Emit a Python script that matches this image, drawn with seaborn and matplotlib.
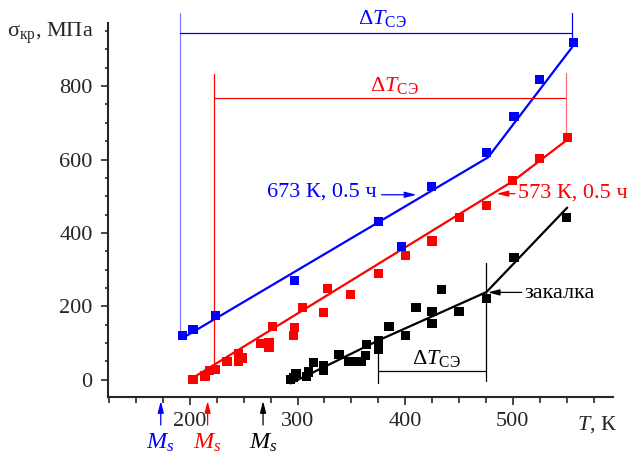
import matplotlib
matplotlib.use("Agg")
import matplotlib.pyplot as plt
import seaborn as sns
import pandas as pd
from matplotlib.ticker import MultipleLocator, FixedLocator

# ---------------- data ----------------
blue_T = [193, 203, 224, 297.5, 375, 396.5, 424.5, 475.5, 501, 525, 556]
blue_s = [121, 137, 174, 271, 431, 363, 527, 620, 718, 818, 918]
blue_fit_T = [193, 477, 555]
blue_fit_s = [113, 606, 906]

red_T = [203, 214, 218, 224, 234.5, 245, 245.5, 248.5, 265.5, 273.5, 273.5, 277,
         297.5, 296.5, 305, 324, 327.5, 349, 375, 400, 425, 450.5, 475.5, 500, 525, 551]
red_s = [0, 10, 25, 27, 50, 72, 51, 59, 98, 102, 89, 146,
         143, 121, 196, 183, 248, 232, 289, 339, 378, 443, 475, 543, 602, 659]
red_fit_T = [200.5, 500, 551]
red_fit_s = [1, 541, 655]

black_T = [293.5, 296, 298.5, 308.5, 310, 314.5, 324, 324, 338.5, 347, 353, 359.5,
           363.5, 364, 375, 375, 385, 400, 410, 425, 425, 433.5, 450, 475.5, 501, 550]
black_s = [0, 7, 18, 9, 21, 48, 39, 25, 69, 50, 50, 50,
           66, 95, 107, 82, 146, 121, 196, 187, 153, 246, 187, 221, 334, 443]
black_fit_T = [293.5, 375, 475.5, 550.5]
black_fit_s = [-10, 107, 239, 469]

# temperature-interval brackets (ΔT_СЭ)
blue_dT = [190.7, 555.3]
red_dT = [222.6, 549.8]
black_dT = [375, 475.5]
Ms_T = [173, 216.5, 268]
Ms_colors = ["#0000ff", "#ff0000", "#000000"]

x_major = [200, 300, 400, 500]
y_major = [0, 200, 400, 600, 800]

BLUE, RED, BLACK = "#0000ff", "#ff0000", "#000000"
FS = 16

# ---------------- style ----------------
sns.set_style("ticks")
plt.rcParams["font.family"] = ["Liberation Serif", "DejaVu Serif"]
plt.rcParams["mathtext.fontset"] = "custom"
plt.rcParams["mathtext.rm"] = "Liberation Serif"
plt.rcParams["mathtext.it"] = "Liberation Serif:italic"
plt.rcParams["mathtext.bf"] = "Liberation Serif:bold"

fig = plt.figure(figsize=(6.3, 4.54), dpi=100)
ax = fig.add_axes([108 / 630, 1 - 397 / 454, (613 - 108) / 630, (397 - 23) / 454])

# fitted lines
for T, s, c in [(blue_fit_T, blue_fit_s, BLUE), (red_fit_T, red_fit_s, RED),
                (black_fit_T, black_fit_s, BLACK)]:
    sns.lineplot(x=T, y=s, sort=False, estimator=None, color=c, lw=1.6, ax=ax)

# points
for T, s, c in [(blue_T, blue_s, BLUE), (red_T, red_s, RED), (black_T, black_s, BLACK)]:
    sns.scatterplot(x=T, y=s, marker="s", s=44, color=c, edgecolor="none", linewidth=0,
                    ax=ax, zorder=3)

ax.set_xlim(124, 593)
ax.set_ylim(-47, 972)

# brackets
thin = 0.9
# blue
ax.plot([blue_dT[0], blue_dT[0]], [113, 999], color="#8080ff", lw=thin, clip_on=False)
ax.plot([blue_dT[0], blue_dT[1]], [945, 945], color=BLUE, lw=thin, clip_on=False)
ax.plot([blue_dT[1], blue_dT[1]], [906, 999], color=BLUE, lw=thin, clip_on=False)
ax.text(379, 984, r"$\Delta T_{\mathrm{СЭ}}$", color=BLUE, fontsize=FS,
        ha="center", va="center")
# red
ax.plot([red_dT[0], red_dT[0]], [34, 832], color=RED, lw=thin)
ax.plot([red_dT[0], red_dT[1]], [768, 768], color=RED, lw=thin)
ax.plot([red_dT[1], red_dT[1]], [655, 835], color="#ff7070", lw=thin)
ax.text(390, 802, r"$\Delta T_{\mathrm{СЭ}}$", color=RED, fontsize=FS,
        ha="center", va="center")
# black
ax.plot([black_dT[0], black_dT[0]], [-9, 80], color=BLACK, lw=thin)
ax.plot([black_dT[1], black_dT[1]], [-4, 318], color=BLACK, lw=thin)
ax.plot([black_dT[0], black_dT[1]], [23, 23], color=BLACK, lw=thin)
ax.text(429, 59, r"$\Delta T_{\mathrm{СЭ}}$", color=BLACK, fontsize=FS,
        ha="center", va="center")

# annotations with arrows
arrow = dict(arrowstyle="-|>,head_length=0.7,head_width=0.18", lw=0.9, shrinkA=0, shrinkB=0)
ax.annotate("", xy=(410.5, 504), xytext=(378, 504),
            arrowprops=dict(arrow, color=BLUE))
ax.text(373.5, 511, "673 К, 0.5 ч", color=BLUE, fontsize=FS, ha="right", va="center")
ax.annotate("", xy=(484.8, 507), xytext=(502, 507),
            arrowprops=dict(arrow, color=RED))
ax.text(504.5, 508, "573 К, 0.5 ч", color=RED, fontsize=FS, ha="left", va="center")
ax.annotate("", xy=(476.7, 238), xytext=(508.3, 238),
            arrowprops=dict(arrow, color=BLACK))
ax.text(511, 235, "закалка", color=BLACK, fontsize=FS, ha="left", va="center")

# Ms arrows below axis
for T, c in zip(Ms_T, Ms_colors):
    ax.annotate("", xy=(T, 53), xytext=(T, 29), xycoords=("data", "figure pixels"),
                textcoords=("data", "figure pixels"),
                arrowprops=dict(arrow, color=c), annotation_clip=False)
    ax.annotate(r"$M_s$", xy=(T, 11), xycoords=("data", "figure pixels"),
                ha="center", va="center", color=c, fontsize=17.5, annotation_clip=False)

# axes styling
sns.despine(ax=ax)
for sp in ["left", "bottom"]:
    ax.spines[sp].set_linewidth(1.5)
ax.xaxis.set_major_locator(FixedLocator(x_major))
ax.xaxis.set_minor_locator(MultipleLocator(25))
ax.yaxis.set_major_locator(FixedLocator(y_major))
ax.yaxis.set_minor_locator(MultipleLocator(50))
ax.tick_params(axis="x", which="major", length=6, width=1.2, labelsize=FS, pad=5)
ax.tick_params(axis="x", which="minor", length=4.5, width=1.2)
ax.tick_params(axis="y", which="major", length=5, width=1.2, labelsize=FS, pad=6)
ax.tick_params(axis="y", which="minor", length=2.5, width=1.2)
ax.set_xlabel("")
ax.set_ylabel("")

fig.text(7 / 630, 1 - 33 / 454, r"$\mathrm{σ}_{\mathrm{кр}}$, МПа", fontsize=FS,
         ha="left", va="center")
fig.text(617 / 630, 1 - 425 / 454, r"$T$, К", fontsize=FS, ha="right", va="center")

fig.savefig("out.png", dpi=100)
